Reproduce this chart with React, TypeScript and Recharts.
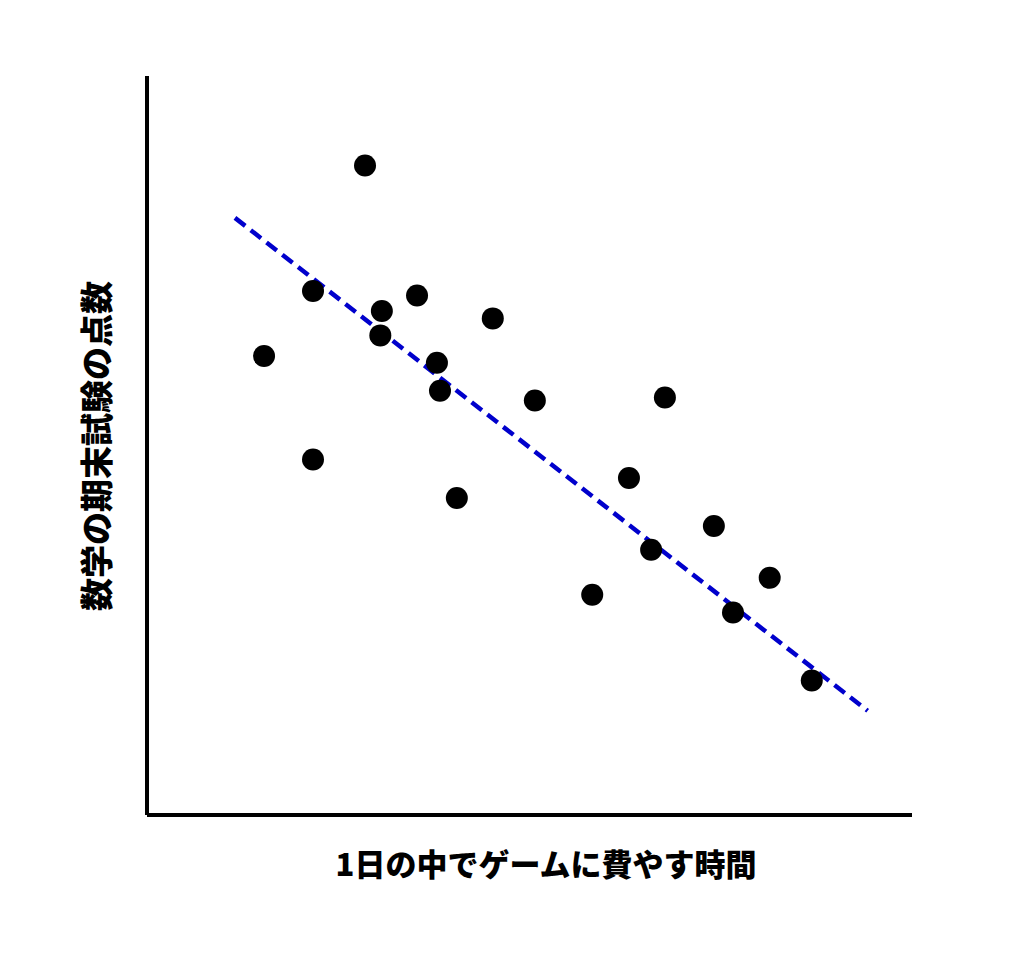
import React from 'react';
import { ScatterChart, Scatter, XAxis, YAxis, ReferenceLine, Label } from 'recharts';

const gameHours = [28.5, 21.7, 15.3, 21.7, 30.7, 30.5, 35.3, 37.9, 38.3, 45.2, 40.5, 50.7, 67.7, 63.0, 65.9, 58.2, 74.1, 76.6, 81.4, 86.9];
const mathScores = [87.9, 70.9, 62.1, 48.1, 68.2, 64.9, 70.3, 61.2, 57.4, 67.2, 42.9, 56.1, 56.5, 45.6, 35.9, 29.8, 39.1, 27.4, 32.1, 18.2];
const trendX = [11.5, 94.2];
const trendY = [80.8, 14.1];
const xLabel = '1日の中でゲームに費やす時間';
const yLabel = '数学の期末試験の点数';

const points = gameHours.map((x, i) => ({ x, y: mathScores[i] }));

const FONT = '"Noto Sans CJK JP", "Noto Sans", sans-serif';

const Dot = (props: any) => <circle cx={props.cx} cy={props.cy} r={11} fill="#000" />;

export default function App() {
  return (
    <div style={{ position: 'absolute', left: 0, top: 0, background: '#fff' }}>
      <ScatterChart width={1024} height={963} margin={{ top: 76, right: 112, left: 146, bottom: 147 }}>
        <XAxis
          type="number"
          dataKey="x"
          domain={[0, 100]}
          height={1}
          tick={false}
          tickLine={false}
          axisLine={{ stroke: '#000', strokeWidth: 4 }}
        >
          <Label
            content={() => (
              <text x={546} y={876} textAnchor="middle" fontFamily={FONT} fontWeight={900} fontSize={31} fill="#000">
                {xLabel}
              </text>
            )}
          />
        </XAxis>
        <YAxis
          type="number"
          dataKey="y"
          domain={[0, 100]}
          width={1}
          tick={false}
          tickLine={false}
          axisLine={{ stroke: '#000', strokeWidth: 4 }}
        >
          <Label
            content={() => (
              <text
                x={95}
                y={446}
                textAnchor="middle"
                dominantBaseline="central"
                transform="rotate(-90 95 446)"
                fontFamily={FONT}
                fontWeight={900}
                fontSize={33}
                fill="#000"
              >
                {yLabel}
              </text>
            )}
          />
        </YAxis>
        <ReferenceLine
          segment={[{ x: trendX[0], y: trendY[0] }, { x: trendX[1], y: trendY[1] }]}
          stroke="#0000CC"
          strokeWidth={4.5}
          strokeDasharray="13 7"
          ifOverflow="visible"
        />
        <Scatter data={points} fill="#000" shape={Dot} isAnimationActive={false} />
      </ScatterChart>
    </div>
  );
}
